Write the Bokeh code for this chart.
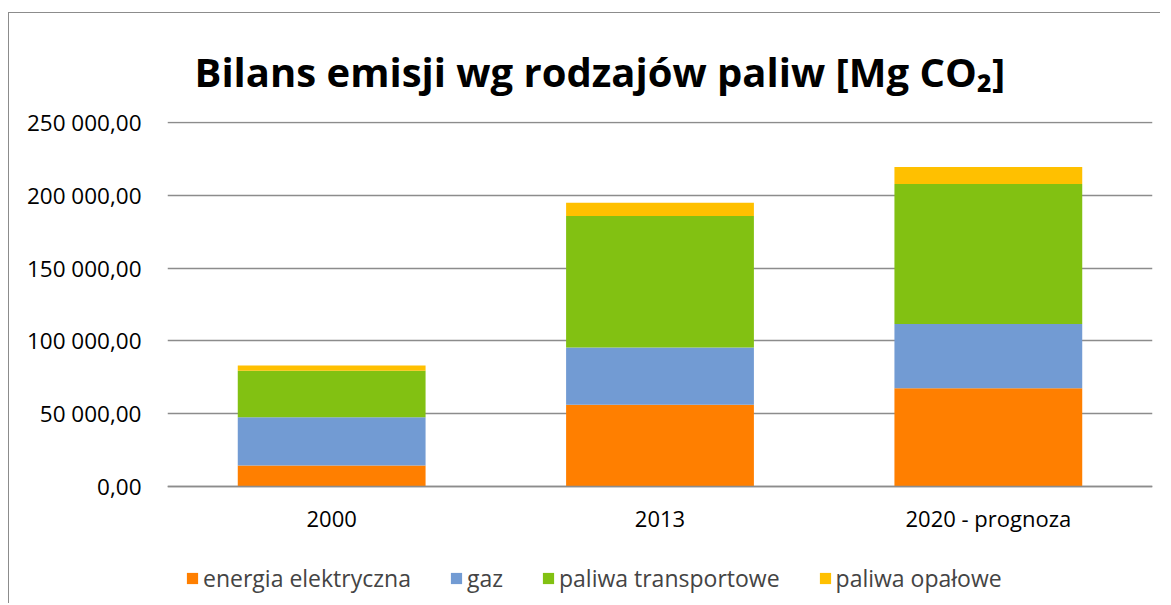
from bokeh.plotting import figure
from bokeh.models import ColumnDataSource, FixedTicker, Legend, LegendItem, FactorRange
from bokeh.embed import file_html
from bokeh.resources import INLINE

categories = ["2000", "2013", "2020 - prognoza"]
series_names = ["energia elektryczna", "gaz", "paliwa transportowe", "paliwa opałowe"]
energia = [14400, 56100, 67500]
gaz = [33200, 39400, 44000]
transport = [31850, 90200, 96150]
opalowe = [3650, 9200, 11700]
colors = ["#FF7F00", "#729BD3", "#82C112", "#FFC000"]
y_ticks = [0, 50000, 100000, 150000, 200000, 250000]
y_tick_labels = ["0,00", "50 000,00", "100 000,00", "150 000,00", "200 000,00", "250 000,00"]
title_text = "Bilans emisji wg rodzajów paliw [Mg CO₂]"

FONT = "Open Sans"
keys = ["energia", "gaz", "transport", "opalowe"]
source = ColumnDataSource(dict(cat=categories, energia=energia, gaz=gaz,
                               transport=transport, opalowe=opalowe))

# the frame extends below zero so that the category axis and legend sit inside it
p = figure(x_range=FactorRange(*categories, range_padding=0), y_range=(-80330, 250600),
           frame_width=985, frame_height=482, output_backend="svg", toolbar_location=None,
           min_border_left=158, min_border_right=8, min_border_top=108, min_border_bottom=0)
p.styles = {"border-left": "1.5px solid #8c8c8c", "border-top": "1.5px solid #8c8c8c",
            "margin-left": "8px", "margin-top": "12px"}

renderers = p.vbar_stack(keys, x="cat", width=0.572, source=source, color=colors,
                         line_color=None)

p.title.text = title_text
p.title.text_font = FONT
p.title.text_font_style = "bold"
p.title.text_font_size = "40px"
p.title.text_color = "#000000"
p.title.align = "left"
p.title.offset = 27
p.title.standoff = 45

p.outline_line_color = None
p.xgrid.grid_line_color = None
p.ygrid.grid_line_color = "#8c8c8c"
p.ygrid.grid_line_width = 1.5
p.ygrid.ticker = FixedTicker(ticks=y_ticks)

p.yaxis.ticker = FixedTicker(ticks=y_ticks)
p.yaxis.major_label_overrides = {t: l for t, l in zip(y_ticks, y_tick_labels)}
p.yaxis.axis_line_color = None
p.yaxis.major_tick_line_color = None
p.yaxis.minor_tick_line_color = None
p.yaxis.major_label_text_font = FONT
p.yaxis.major_label_text_font_size = "22.5px"
p.yaxis.major_label_text_color = "#000000"
p.yaxis.major_label_standoff = 20

p.xaxis.fixed_location = 0
p.xaxis.axis_line_color = "#8c8c8c"
p.xaxis.axis_line_width = 1.5
p.xaxis.major_tick_line_color = None
p.xaxis.minor_tick_line_color = None
p.xaxis.major_label_text_font = FONT
p.xaxis.major_label_text_font_size = "22px"
p.xaxis.major_label_text_color = "#000000"
p.xaxis.major_label_standoff = 11

legend = Legend(items=[LegendItem(label=n, renderers=[r]) for n, r in zip(series_names, renderers)],
                orientation="horizontal", location=(18, 9),
                label_text_font=FONT, label_text_font_size="23px",
                glyph_width=14, glyph_height=14, label_standoff=4, spacing=38,
                border_line_color=None, background_fill_alpha=0, margin=0, padding=4)
p.add_layout(legend, "center")

open("out.html", "w").write(file_html(p, INLINE))
